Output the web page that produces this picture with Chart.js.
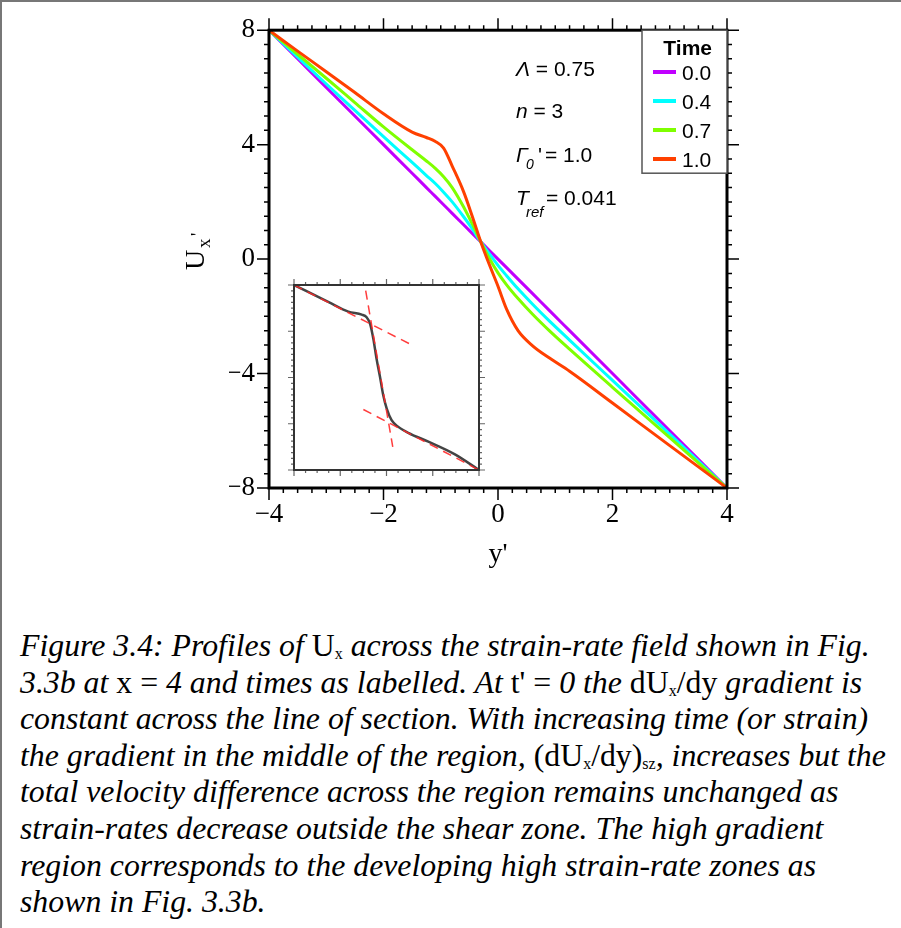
<!DOCTYPE html>
<html>
<head>
<meta charset="utf-8">
<script src="https://cdn.jsdelivr.net/npm/chart.js@4.4.0/dist/chart.umd.min.js"></script>
<style>
  html, body { margin: 0; padding: 0; background: #fff; }
  #page { position: relative; width: 901px; height: 928px; overflow: hidden;
          border-top: 2px solid #777; border-left: 2px solid #777; box-sizing: border-box; }
  #mainWrap { position: absolute; left: -2px; top: -2px; width: 901px; height: 600px; }
  #insetWrap { position: absolute; left: 260px; top: 266px; width: 230px; height: 215px; }
  #caption { position: absolute; left: 18px; top: 626px; font-family: "Liberation Serif", "DejaVu Serif", serif;
             font-style: italic; font-size: 31.8px; line-height: 36.6px; color: #000; }
  #caption div { white-space: nowrap; }
  #caption .r { font-style: normal; }
  #caption sub { font-size: 16px; vertical-align: -3px; line-height: 0; }
</style>
</head>
<body>
<div id="page">
  <div id="mainWrap"><canvas id="mainChart" width="901" height="600"></canvas></div>
  <div id="insetWrap"><canvas id="insetChart" width="230" height="215"></canvas></div>
  <div id="caption">
    <div>Figure 3.4: Profiles of <span class="r">U<sub>x</sub></span> across the strain-rate field shown in Fig.</div>
    <div>3.3b at <span class="r">x = </span>4 and times as labelled. At <span class="r">t' = </span>0 the <span class="r">dU<sub>x</sub>/dy</span> gradient is</div>
    <div>constant across the line of section. With increasing time (or strain)</div>
    <div>the gradient in the middle of the region, <span class="r">(dU<sub>x</sub>/dy)<sub>sz</sub></span>, increases but the</div>
    <div>total velocity difference across the region remains unchanged as</div>
    <div>strain-rates decrease outside the shear zone. The high gradient</div>
    <div>region corresponds to the developing high strain-rate zones as</div>
    <div>shown in Fig. 3.3b.</div>
  </div>
</div>
<script>
//profile positions y' (shared by all time curves)
var yPos = [-4, -3.5, -3, -2.5, -2, -1.5, -1.25, -1.1, -0.95, -0.8, -0.6, -0.45, -0.3, -0.15, 0, 0.15, 0.35, 0.6, 0.9, 1.25, 2, 3, 4];

//Ux' for each time
var time00 = [8, 7, 6, 5, 4, 3, 2.5, 2.2, 1.9, 1.6, 1.2, 0.9, 0.6, 0.3, 0, -0.3, -0.7, -1.2, -1.8, -2.5, -4, -6, -8];
var time04 = [8, 7.06, 6.12, 5.2, 4.28, 3.38, 2.92, 2.65, 2.34, 2.0, 1.48, 1.06, 0.6, 0.18, -0.22, -0.58, -1.04, -1.57, -2.17, -2.83, -4.24, -6.12, -8];
var time07 = [8, 7.16, 6.32, 5.47, 4.62, 3.82, 3.43, 3.18, 2.88, 2.5, 1.82, 1.23, 0.6, 0.02, -0.48, -0.9, -1.38, -1.92, -2.51, -3.15, -4.48, -6.24, -8];
var time10 = [8, 7.27, 6.55, 5.82, 5.08, 4.44, 4.25, 4.12, 3.88, 3.25, 2.35, 1.5, 0.6, -0.2, -0.95, -1.75, -2.5, -3.02, -3.46, -3.92, -5.03, -6.52, -8];

var timeLabels = ['0.0', '0.4', '0.7', '1.0'];
var timeColors = ['#C000FF', '#00FFFF', '#7FFF00', '#FF4000'];

//axis ticks
var xTicks = [-4, -2, 0, 2, 4];
var yTicks = [-8, -4, 0, 4, 8];

//inset: profile plus the three tangent lines
var insetPos = [-4, -2.5, -1.65, -1.07, -0.86, -0.71, -0.57, -0.43, -0.28, -0.14, 0.01, 0.22, 0.51, 0.94, 1.81, 2.96, 4];
var insetU = [8, 6.52, 5.7, 5.44, 5.21, 4.64, 3.35, 1.62, 0.04, -1.54, -2.69, -3.69, -4.27, -4.78, -5.55, -6.65, -8];
var tangentUpperX = [-4, 0.99];
var tangentUpperU = [8, 2.92];
var tangentLowerX = [-1.0, 4];
var tangentLowerU = [-2.77, -8];
var tangentMidX = [-0.9, 0.27];
var tangentMidU = [7.51, -5.99];

function pts(xs, ys) {
  var out = [];
  for (var i = 0; i < xs.length; i++) out.push({x: xs[i], y: ys[i]});
  return out;
}

function minus(v) {
  return String(v).replace('-', '\u2212');
}

var serif = '"Liberation Serif", "DejaVu Serif", serif';
var sans = '"Liberation Sans", Arial, sans-serif';

//draw outward tick marks on all four sides of the chart area
function frameTicks(ctx, chart, xStep, xMajor, yStep, yMajor, lenMaj, lenMin, color, width) {
  var a = chart.chartArea, sx = chart.scales.x, sy = chart.scales.y;
  ctx.save();
  ctx.strokeStyle = color;
  ctx.lineWidth = width;
  ctx.beginPath();
  var n = Math.round((sx.max - sx.min) / xStep);
  for (var i = 0; i <= n; i++) {
    var v = sx.min + i * xStep;
    var len = Math.abs(v / xMajor - Math.round(v / xMajor)) < 1e-6 ? lenMaj : lenMin;
    var p = sx.getPixelForValue(v);
    ctx.moveTo(p, a.bottom); ctx.lineTo(p, a.bottom + len);
    ctx.moveTo(p, a.top); ctx.lineTo(p, a.top - len);
  }
  n = Math.round((sy.max - sy.min) / yStep);
  for (var j = 0; j <= n; j++) {
    var w = sy.min + j * yStep;
    var l2 = Math.abs(w / yMajor - Math.round(w / yMajor)) < 1e-6 ? lenMaj : lenMin;
    var q = sy.getPixelForValue(w);
    ctx.moveTo(a.left - l2, q); ctx.lineTo(a.left, q);
    ctx.moveTo(a.right, q); ctx.lineTo(a.right + l2, q);
  }
  ctx.stroke();
  ctx.restore();
}

var mainDecor = {
  id: 'mainDecor',
  beforeDraw: function(chart) {
    var ctx = chart.ctx;
    ctx.save();
    ctx.fillStyle = '#fff';
    ctx.fillRect(0, 0, chart.width, chart.height);
    ctx.restore();
  },
  afterDraw: function(chart) {
    var ctx = chart.ctx, a = chart.chartArea;

    frameTicks(ctx, chart, 0.25, 2, 0.5, 4, 12, 5, '#000', 1.5);

    ctx.save();
    ctx.strokeStyle = '#000';
    ctx.lineWidth = 3;
    ctx.strokeRect(a.left, a.top, a.right - a.left, a.bottom - a.top);

    //axis titles
    ctx.fillStyle = '#000';
    ctx.textBaseline = 'alphabetic';
    ctx.textAlign = 'center';
    ctx.font = '28px ' + serif;
    ctx.fillText("y'", (a.left + a.right) / 2, 562);

    ctx.save();
    ctx.translate(204, 259);
    ctx.rotate(-Math.PI / 2);
    ctx.textAlign = 'left';
    ctx.font = '28px ' + serif;
    ctx.fillText('U', -11, 0);
    ctx.font = '19px ' + serif;
    ctx.fillText('x', 11, 6);
    ctx.fillText("'", 23, 0);
    ctx.restore();

    //parameter notes
    ctx.textAlign = 'left';
    ctx.font = 'italic 21px ' + sans;
    ctx.fillText('\u039B', 516, 76);
    var w = ctx.measureText('\u039B').width;
    ctx.font = '21px ' + sans;
    ctx.fillText(' = 0.75', 516 + w, 76);

    ctx.font = 'italic 21px ' + sans;
    ctx.fillText('n', 516, 118);
    w = ctx.measureText('n').width;
    ctx.font = '21px ' + sans;
    ctx.fillText(' = 3', 516 + w, 118);

    ctx.font = 'italic 21px ' + sans;
    ctx.fillText('\u0393', 516, 162);
    ctx.font = 'italic 14px ' + sans;
    ctx.fillText('0', 526, 169);
    ctx.font = '21px ' + sans;
    ctx.fillText("'", 538, 162);
    ctx.fillText('= 1.0', 545, 162);

    ctx.font = 'italic 21px ' + sans;
    ctx.fillText('T', 516, 205);
    ctx.font = 'italic 15px ' + sans;
    ctx.fillText('ref', 526, 217);
    ctx.font = '21px ' + sans;
    ctx.fillText('= 0.041', 546, 205);

    //legend box
    var lx = 642, ly = a.top;
    ctx.fillStyle = '#fff';
    ctx.fillRect(lx, ly, a.right - lx, 143);
    ctx.strokeStyle = '#555';
    ctx.lineWidth = 1.5;
    ctx.strokeRect(lx, ly, a.right - lx, 143);
    ctx.fillStyle = '#000';
    ctx.textAlign = 'right';
    ctx.font = 'bold 21px ' + sans;
    ctx.fillText('Time', 712, 55);
    ctx.textAlign = 'left';
    ctx.font = '21px ' + sans;
    chart.data.datasets.forEach(function(ds, i) {
      var yy = 72 + i * 29;
      ctx.strokeStyle = ds.borderColor;
      ctx.lineWidth = 4;
      ctx.beginPath();
      ctx.moveTo(653, yy);
      ctx.lineTo(676, yy);
      ctx.stroke();
      ctx.fillText(ds.label, 682, yy + 8);
    });
    ctx.restore();
  }
};

var insetDecor = {
  id: 'insetDecor',
  beforeDatasetsDraw: function(chart) {
    var ctx = chart.ctx, a = chart.chartArea;
    ctx.save();
    ctx.fillStyle = '#fff';
    ctx.fillRect(a.left, a.top, a.right - a.left, a.bottom - a.top);
    ctx.restore();
  },
  afterDraw: function(chart) {
    var ctx = chart.ctx, a = chart.chartArea;
    frameTicks(ctx, chart, 0.5, 2, 0.5, 4, 6, 3, '#666', 1.2);
    ctx.save();
    ctx.strokeStyle = '#333';
    ctx.lineWidth = 2;
    ctx.strokeRect(a.left, a.top, a.right - a.left, a.bottom - a.top);
    ctx.restore();
  }
};

var mainData = [time00, time04, time07, time10];
var mainSets = [];
for (var k = 0; k < mainData.length; k++) {
  mainSets.push({
    label: timeLabels[k],
    data: pts(yPos, mainData[k]),
    borderColor: timeColors[k],
    borderWidth: 3,
    pointRadius: 0,
    cubicInterpolationMode: 'monotone',
    fill: false,
    order: mainData.length - k
  });
}

var mainChart = new Chart(document.getElementById('mainChart'), {
  type: 'line',
  data: { datasets: mainSets },
  options: {
    responsive: false,
    animation: false,
    events: [],
    layout: { padding: { left: 229, top: 29, right: 174, bottom: 72 } },
    plugins: { legend: { display: false }, tooltip: { enabled: false } },
    scales: {
      x: {
        type: 'linear', min: -4, max: 4,
        grid: { display: false, drawTicks: false },
        border: { display: false },
        afterFit: function(s) { s.height = 40; },
        afterBuildTicks: function(s) { s.ticks = xTicks.map(function(v) { return {value: v}; }); },
        ticks: { padding: 11, color: '#000', font: { family: serif, size: 27 }, maxRotation: 0,
                 callback: function(v) { return minus(v); } }
      },
      y: {
        type: 'linear', min: -8, max: 8,
        grid: { display: false, drawTicks: false },
        border: { display: false },
        afterFit: function(s) { s.width = 40; },
        afterBuildTicks: function(s) { s.ticks = yTicks.map(function(v) { return {value: v}; }); },
        ticks: { padding: 14, color: '#000', font: { family: serif, size: 27 },
                 callback: function(v) { return minus(v); } }
      }
    }
  },
  plugins: [mainDecor]
});

var dashRed = 'rgba(255, 40, 40, 0.9)';
var insetChart = new Chart(document.getElementById('insetChart'), {
  type: 'line',
  data: {
    datasets: [
      { data: pts(tangentUpperX, tangentUpperU), borderColor: dashRed, borderWidth: 1.5, borderDash: [9, 6], pointRadius: 0, order: 1 },
      { data: pts(tangentLowerX, tangentLowerU), borderColor: dashRed, borderWidth: 1.5, borderDash: [9, 6], pointRadius: 0, order: 1 },
      { data: pts(tangentMidX, tangentMidU), borderColor: dashRed, borderWidth: 1.5, borderDash: [9, 6], pointRadius: 0, order: 1 },
      { data: pts(insetPos, insetU), borderColor: '#444', borderWidth: 2.5, pointRadius: 0,
        cubicInterpolationMode: 'monotone', order: 2 }
    ]
  },
  options: {
    responsive: false,
    animation: false,
    events: [],
    layout: { padding: { left: 32, top: 17, right: 13, bottom: 13 } },
    plugins: { legend: { display: false }, tooltip: { enabled: false } },
    scales: {
      x: { type: 'linear', min: -4, max: 4, display: false },
      y: { type: 'linear', min: -8, max: 8, display: false }
    }
  },
  plugins: [insetDecor]
});
</script>
</body>
</html>
